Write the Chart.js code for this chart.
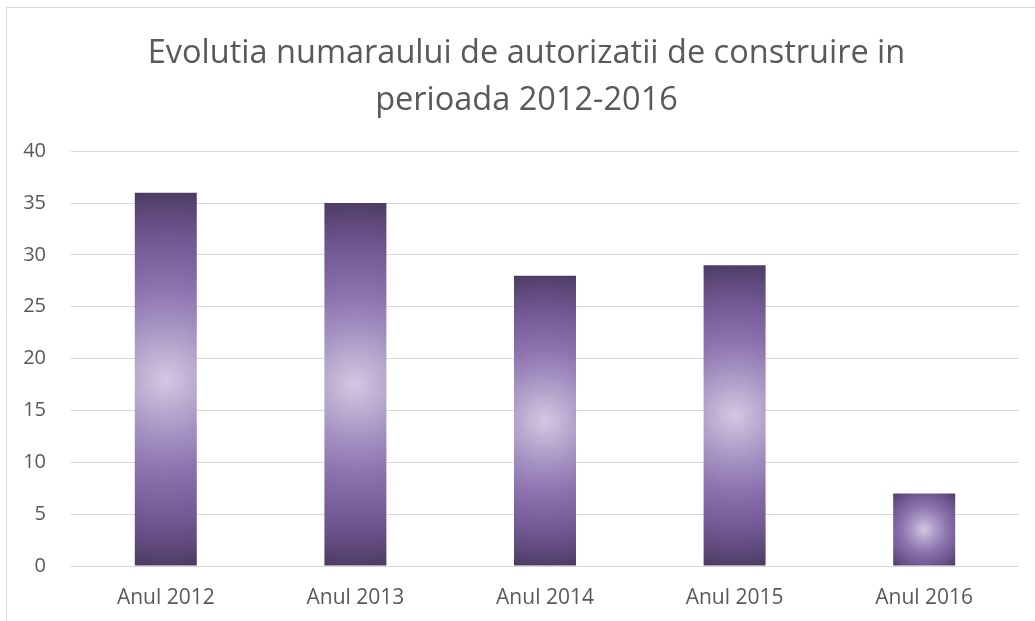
<!DOCTYPE html>
<html>
<head>
<meta charset="utf-8">
<script src="https://cdn.jsdelivr.net/npm/chart.js@4/dist/chart.umd.min.js"></script>
<style>
  html, body { margin: 0; padding: 0; background: #ffffff; }
  #wrap { width: 1035px; height: 621px; position: relative; }
</style>
</head>
<body>
<div id="wrap"><canvas id="c" width="1035" height="621"></canvas></div>
<script>
// Building permits issued per year
const categories = ['Anul 2012', 'Anul 2013', 'Anul 2014', 'Anul 2015', 'Anul 2016'];
const permits = [36, 35, 28, 29, 7];
const titleLines = ['Evolutia numaraului de autorizatii de construire in', 'perioada 2012-2016'];
const yTicks = [0, 5, 10, 15, 20, 25, 30, 35, 40];

const FONT = '"Open Sans", "Noto Sans", sans-serif';
const TEXT = '#595959';
const GRID = '#d9d9d9';

// Radial shading from a light core to dark violet edges, sized per bar
const shadeStops = [
  [0.00, '#d3c8e1'],
  [0.12, '#c0b2d4'],
  [0.30, '#a491c1'],
  [0.50, '#8b71ad'],
  [0.70, '#765d99'],
  [0.86, '#624c80'],
  [1.00, '#4c3b61']
];

const barShading = {
  id: 'barShading',
  beforeDatasetsDraw(chart) {
    const ctx = chart.ctx;
    chart.getDatasetMeta(0).data.forEach(bar => {
      const p = bar.getProps(['x', 'y', 'base', 'width'], true);
      const top = Math.min(p.y, p.base), bottom = Math.max(p.y, p.base);
      const cx = p.x, cy = (top + bottom) / 2;
      const r = Math.sqrt(Math.pow(p.width / 2, 2) + Math.pow((bottom - top) / 2, 2));
      const g = ctx.createRadialGradient(cx, cy, 0, cx, cy, r);
      shadeStops.forEach(s => g.addColorStop(s[0], s[1]));
      bar.options.backgroundColor = g;
    });
  }
};

// The title is centred on the chart box, which starts at the frame line
const titleBox = {
  id: 'titleBox',
  afterLayout(chart) {
    const t = chart.titleBlock;
    if (t) {
      t.left = 34;
      t.right = chart.width - 16;
      t.width = t.right - t.left;
    }
  }
};

// Thin frame along the top and left edges of the chart box
const frame = {
  id: 'frame',
  beforeDraw(chart) {
    const ctx = chart.ctx;
    ctx.save();
    ctx.fillStyle = '#ffffff';
    ctx.fillRect(0, 0, chart.width, chart.height);
    ctx.strokeStyle = GRID;
    ctx.lineWidth = 1;
    ctx.beginPath();
    ctx.moveTo(6.5, chart.height + 2);
    ctx.lineTo(6.5, 7.5);
    ctx.lineTo(chart.width + 2, 7.5);
    ctx.stroke();
    ctx.restore();
  }
};

new Chart(document.getElementById('c'), {
  type: 'bar',
  data: {
    labels: categories,
    datasets: [{
      data: permits,
      backgroundColor: () => '#6a538e',
      borderWidth: 0,
      categoryPercentage: 1,
      barPercentage: 0.327
    }]
  },
  options: {
    responsive: false,
    animation: false,
    devicePixelRatio: 1,
    layout: { padding: { left: 0, right: 16, top: 0, bottom: 0 } },
    plugins: {
      legend: { display: false },
      tooltip: { enabled: false },
      title: {
        display: true,
        text: titleLines,
        color: TEXT,
        font: { family: FONT, size: 32.5, weight: 'normal', lineHeight: 1.45 },
        padding: { top: 30, bottom: 27 }
      }
    },
    scales: {
      x: {
        grid: { display: false },
        border: { display: false },
        ticks: {
          color: TEXT,
          font: { family: FONT, size: 21 },
          padding: 11,
          maxRotation: 0
        },
        afterFit(scale) { scale.height = 55; }
      },
      y: {
        min: 0,
        max: 40,
        afterBuildTicks(scale) { scale.ticks = yTicks.map(v => ({ value: v })); },
        grid: { color: GRID, lineWidth: 1, drawTicks: false },
        border: { display: false },
        ticks: {
          color: TEXT,
          font: { family: FONT, size: 20 },
          padding: 25
        },
        afterFit(scale) { scale.width = 71; }
      }
    }
  },
  plugins: [frame, titleBox, barShading]
});
</script>
</body>
</html>
